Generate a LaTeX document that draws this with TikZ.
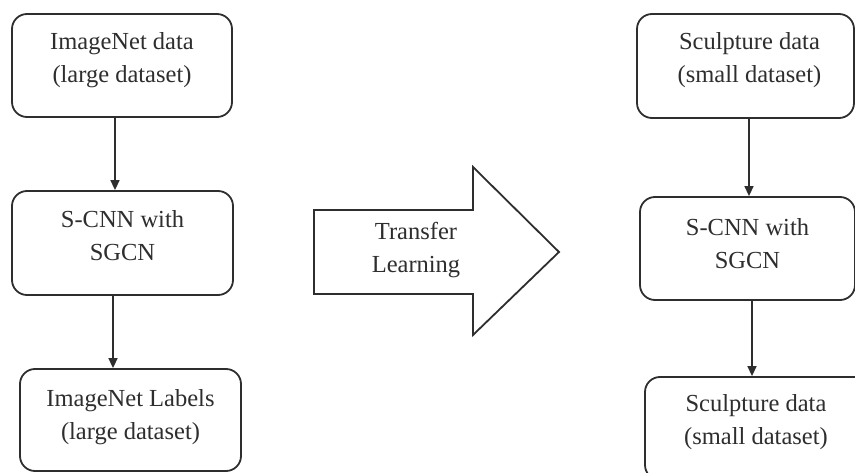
\documentclass[tikz,border=0pt]{standalone}
\usepackage{fontspec}
\setmainfont{Liberation Serif}
\usetikzlibrary{arrows.meta,calc}
\definecolor{ink}{HTML}{2E2E2E}
\tikzset{
  box/.style={draw=ink, line width=1.8pt, rounded corners=15pt, fill=white, inner sep=0pt},
  txt/.style={text=ink, align=center, font=\fontsize{24.5pt}{33pt}\selectfont, inner sep=0pt},
  arr/.style={draw=ink, line width=1.5pt, -{Triangle[width=9pt,length=10pt]}},
  big/.style={draw=ink, line width=1.8pt, fill=white, line join=miter}
}
\begin{document}
\begin{tikzpicture}[x=1pt,y=-1pt]
\useasboundingbox (0,0) rectangle (855,473);
\clip (0,0) rectangle (855,473);
% left column
\node[box, minimum width=220pt, minimum height=103pt] (L1) at (122,65.5) {};
\node[txt] (t1) at (122,60) {ImageNet data\\(large dataset)};
\node[box, minimum width=221pt, minimum height=104pt] (L2) at (122.5,243) {};
\node[txt] (t2) at (122.5,236) {S-CNN with\\SGCN};
\node[box, minimum width=221pt, minimum height=102pt] (L3) at (130.5,420) {};
\node[txt] (t3) at (130.5,417) {ImageNet Labels\\(large dataset)};
% right column
\node[box, minimum width=217pt, minimum height=104pt] (R1) at (745.5,66) {};
\node[txt] (t4) at (749.5,60) {Sculpture data\\(small dataset)};
\node[box, minimum width=215pt, minimum height=103pt] (R2) at (747.5,248.5) {};
\node[txt] (t5) at (747.5,243.5) {S-CNN with\\SGCN};
\node[box, minimum width=225pt, minimum height=103pt] (R3) at (757.5,428.5) {};
\node[txt] (t6) at (756,422) {Sculpture data\\(small dataset)};
% connector x positions
\coordinate (xa) at (115,0);
\coordinate (xb) at (113,0);
\coordinate (xc) at (749,0);
\coordinate (xd) at (752,0);
\draw[arr] (L1.south -| xa) -- (L2.north -| xa);
\draw[arr] (L2.south -| xb) -- (L3.north -| xb);
\draw[arr] (R1.south -| xc) -- (R2.north -| xc);
\draw[arr] (R2.south -| xd) -- (R3.north -| xd);
% big transfer arrow
\draw[big] (314,210) -- (473,210) -- (473,167) -- (559,252) -- (473,335) -- (473,294) -- (314,294) -- cycle;
\node[txt] (tl) at (416,250) {Transfer\\Learning};
\end{tikzpicture}
\end{document}
